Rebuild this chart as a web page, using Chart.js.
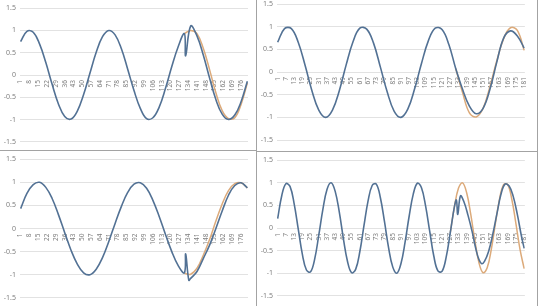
<!DOCTYPE html>
<html lang="en">
<head>
<meta charset="utf-8">
<title>Sine predictions</title>
<script src="https://cdn.jsdelivr.net/npm/chart.js"></script>
<style>
    body {
        margin: 0;
        width: 540px;
        height: 306px;
        overflow: hidden;
        position: relative;
        background: #fff;
    }
    .panel { position: absolute; }
    .rule { position: absolute; background: #a3a3a3; }
</style>
</head>
<body>
<div class="panel" style="left:0;top:0;width:256px;height:150px"><canvas id="tl"></canvas></div>
<div class="panel" style="left:257px;top:-4px;width:280px;height:155px"><canvas id="tr"></canvas></div>
<div class="panel" style="left:0;top:151px;width:256px;height:155px"><canvas id="bl"></canvas></div>
<div class="panel" style="left:257px;top:152px;width:280px;height:152px"><canvas id="br"></canvas></div>

<div class="rule" style="left:256px;top:0;width:1px;height:306px"></div>
<div class="rule" style="left:0;top:150px;width:256px;height:1px"></div>
<div class="rule" style="left:256px;top:151px;width:282px;height:1px"></div>
<div class="rule" style="left:537px;top:0;width:1px;height:306px"></div>

<script>
    // category labels shown on the x axes
    const ticks7 = [1, 8, 15, 22, 29, 36, 43, 50, 57, 64, 71, 78, 85, 92, 99, 106, 113, 120, 127, 134, 141, 148, 155, 162, 169, 176];
    const ticks6 = [1, 7, 13, 19, 25, 31, 37, 43, 49, 55, 61, 67, 73, 79, 85, 91, 97, 103, 109, 115, 121, 127, 133, 139, 145, 151, 157, 163, 169, 175, 181];

    // top left
    const tlX = [1, 6, 11, 16, 21, 26, 31, 36, 41, 46, 51, 56, 61, 66, 71, 76, 81, 86, 91, 96, 101, 106, 111, 116, 121, 126, 131, 132, 136, 141, 146, 151, 156, 161, 166, 171, 176, 181];
    const tlBlue = [0.75, 0.98, 0.96, 0.70, 0.28, -0.21, -0.65, -0.93, -0.99, -0.81, -0.44, 0.04, 0.51, 0.86, 1.00, 0.90, 0.59, 0.13, -0.35, -0.75, -0.98, -0.96, -0.72, -0.30, 0.19, 0.63, 0.93, 0.43, 1.10, 0.88, 0.45, -0.07, -0.55, -0.88, -1.00, -0.90, -0.60, -0.14];
    const tlOrangeX = [131, 136, 141, 146, 151, 156, 161, 166, 171, 176, 181];
    const tlOrange = [0.93, 1.00, 0.93, 0.60, 0.12, -0.40, -0.80, -0.98, -0.96, -0.66, -0.18];

    // top right
    const trX = [1, 6, 11, 16, 21, 26, 31, 36, 41, 46, 51, 56, 61, 66, 71, 76, 81, 86, 91, 96, 101, 106, 111, 116, 121, 126, 131, 136, 141, 146, 151, 156, 161, 166, 171, 176, 181];
    const trBlue = [0.66, 0.96, 0.96, 0.66, 0.15, -0.41, -0.84, -1.00, -0.84, -0.41, 0.16, 0.67, 0.97, 0.95, 0.64, 0.11, -0.44, -0.86, -1.00, -0.82, -0.37, 0.19, 0.69, 0.97, 0.94, 0.61, 0.08, -0.38, -0.75, -0.92, -0.80, -0.38, 0.22, 0.75, 0.91, 0.80, 0.53];
    const trOrangeX = [131, 136, 141, 146, 151, 156, 161, 166, 171, 176, 181];
    const trOrange = [0.08, -0.45, -0.90, -0.99, -0.80, -0.32, 0.25, 0.74, 0.98, 0.92, 0.48];

    // bottom left
    const blX = [1, 6, 11, 16, 21, 26, 31, 36, 41, 46, 51, 56, 61, 66, 71, 76, 81, 86, 91, 96, 101, 106, 111, 116, 121, 126, 131, 132, 134.5, 136, 141, 146, 151, 156, 161, 166, 171, 176, 181];
    const blBlue = [0.43, 0.76, 0.95, 1.00, 0.89, 0.65, 0.30, -0.09, -0.47, -0.77, -0.96, -1.00, -0.88, -0.63, -0.28, 0.11, 0.48, 0.78, 0.96, 0.99, 0.87, 0.61, 0.26, -0.13, -0.50, -0.80, -0.96, -0.55, -1.12, -1.08, -0.93, -0.65, -0.36, 0.00, 0.38, 0.72, 0.93, 0.99, 0.88];
    const blOrangeX = [131, 136, 141, 146, 151, 156, 161, 166, 171, 176, 181];
    const blOrange = [-0.97, -0.99, -0.86, -0.58, -0.24, 0.16, 0.53, 0.82, 0.97, 0.99, 0.88];

    // bottom right
    const brX = [1, 4, 7, 10, 13, 16, 19, 22, 25, 28, 31, 34, 37, 40, 43, 46, 49, 52, 55, 58, 61, 64, 67, 70, 73, 76, 79, 82, 85, 88, 91, 94, 97, 100, 103, 106, 109, 112, 115, 118, 121, 124, 127, 130,
        131.5, 132.5, 134.5, 137, 140, 143, 146, 148, 150, 152, 155, 158, 161, 164, 167, 170, 173, 176, 179, 181];
    const brBlue = [0.21, 0.72, 0.98, 0.92, 0.54, -0.02, -0.58, -0.93, -0.97, -0.69, -0.16, 0.41, 0.85, 1.00, 0.81, 0.35, -0.24, -0.74, -0.99, -0.91, -0.52, 0.05, 0.60, 0.94, 0.97, 0.67, 0.14, -0.44, -0.86, -1.00, -0.79, -0.32, 0.26, 0.75, 0.99, 0.89, 0.49, -0.07, -0.62, -0.95, -0.96, -0.65, -0.11, 0.46,
        0.62, 0.30, 0.71, 0.58, 0.28, -0.08, -0.50, -0.70, -0.79, -0.74, -0.52, -0.15, 0.30, 0.74, 0.97, 0.93, 0.70, 0.30, -0.18, -0.45];
    const brOrangeX = [127, 130, 133, 136, 139, 142, 145, 148, 151, 154, 157, 160, 163, 166, 169, 172, 175, 178, 181];
    const brOrange = [-0.11, 0.46, 0.88, 1.00, 0.78, 0.30, -0.28, -0.77, -0.99, -0.88, -0.47, 0.10, 0.64, 0.96, 0.96, 0.63, 0.09, -0.48, -0.90];

    Chart.defaults.font.family = "'Noto Sans', sans-serif";
    Chart.defaults.animation = false;

    function toPoints(xs, ys) {
        return xs.map((x, i) => ({ x: x, y: ys[i] }));
    }

    function drawPanel(id, xs, blue, oxs, orange, xticks, pad) {
        new Chart(document.getElementById(id), {
            type: 'line',
            data: {
                datasets: [
                    { data: toPoints(xs, blue), borderColor: '#527194', borderWidth: 1.6, pointRadius: 0, tension: 0.4 },
                    { data: toPoints(oxs, orange), borderColor: '#dcaa7a', borderWidth: 1.5, pointRadius: 0, tension: 0.4 }
                ]
            },
            options: {
                responsive: true,
                maintainAspectRatio: false,
                layout: { padding: pad },
                plugins: { legend: { display: false }, tooltip: { enabled: false } },
                scales: {
                    x: {
                        type: 'linear',
                        position: { y: 0 },
                        min: 0.5,
                        max: 181.5,
                        grid: { display: false, drawTicks: false },
                        border: { display: false },
                        ticks: { autoSkip: false, minRotation: 90, maxRotation: 90, padding: 5, color: '#808080', font: { size: 6.5 } },
                        afterBuildTicks: s => { s.ticks = xticks.map(v => ({ value: v })); }
                    },
                    y: {
                        min: -1.5,
                        max: 1.5,
                        grid: { color: '#e2e2e2', drawTicks: false },
                        border: { display: false },
                        ticks: { stepSize: 0.5, padding: 4, color: '#808080', font: { size: 7 }, callback: v => String(v) },
                        afterFit: s => { s.width = 20; }
                    }
                }
            }
        });
    }

    drawPanel('tl', tlX, tlBlue, tlOrangeX, tlOrange, ticks7, { top: 5, right: 8, bottom: 7, left: 0 });
    drawPanel('tr', trX, trBlue, trOrangeX, trOrange, ticks6, { top: 6, right: 9, bottom: 11, left: 0 });
    drawPanel('bl', blX, blBlue, blOrangeX, blOrange, ticks7, { top: 8, right: 8, bottom: 8, left: 0 });
    drawPanel('br', brX, brBlue, brOrangeX, brOrange, ticks6, { top: 6, right: 8, bottom: 7, left: 0 });
</script>
</body>
</html>
